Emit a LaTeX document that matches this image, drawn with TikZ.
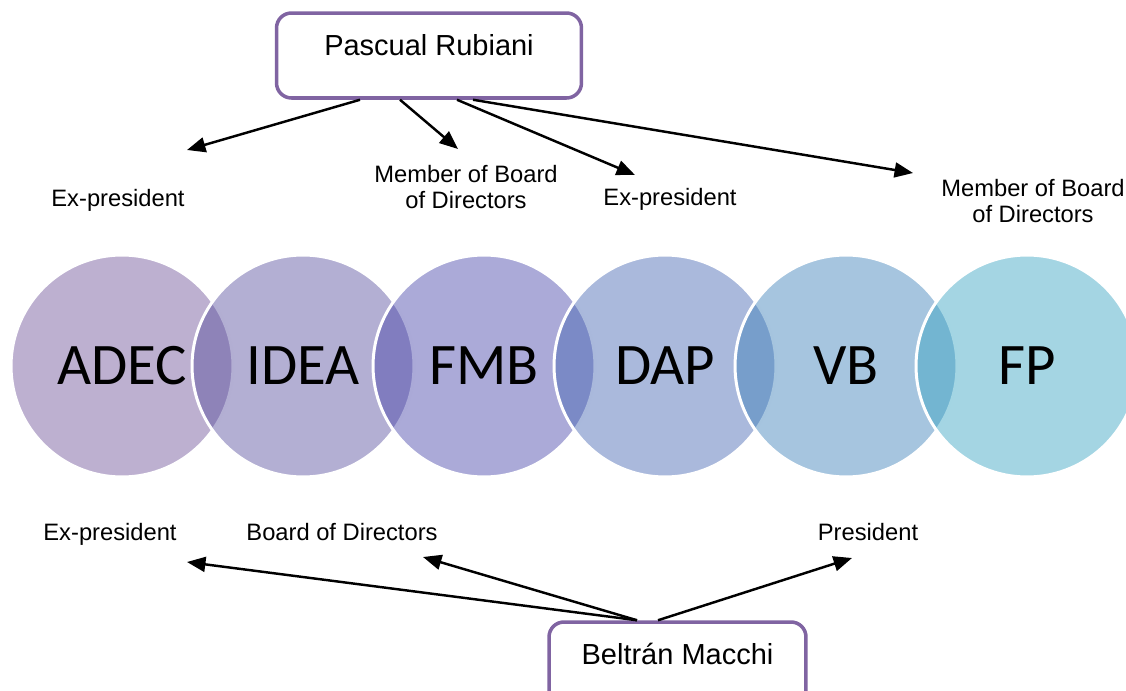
\documentclass[tikz,border=0pt]{standalone}
\usepackage{fontspec}
\setmainfont{Liberation Sans}
\newfontfamily\ringfont{Carlito}
\usepackage{tikz}
\usetikzlibrary{arrows.meta}
\definecolor{adecc}{RGB}{108,79,151}
\definecolor{ideac}{RGB}{86,77,157}
\definecolor{fmbc}{RGB}{68,66,168}
\definecolor{dapc}{RGB}{66,99,177}
\definecolor{vbc}{RGB}{57,126,184}
\definecolor{fpc}{RGB}{53,162,193}
\definecolor{frame}{HTML}{8064A2}
\tikzset{
  ring/.style={circle, minimum size=4.44cm, inner sep=0pt, draw=white, line width=1.7pt,
    fill opacity=0.45, text opacity=1, font=\ringfont\fontsize{33.5}{36}\selectfont},
  person/.style={draw=frame, line width=2pt, rounded corners=8.5pt, fill=white,
    minimum height=1.7cm, text height=12pt, text depth=12pt, font=\fontsize{16.5}{19}\selectfont},
  role/.style={font=\fontsize{13.5}{14.7}\selectfont, align=center, inner sep=0pt, anchor=base},
  link/.style={draw=black, line width=1.4pt, -{Triangle[length=10.5pt,width=8.5pt]}},
}

\begin{document}
\begin{tikzpicture}[x=0.02cm,y=-0.02cm]
  \useasboundingbox (0,0) rectangle (1126,690);
  \clip (0,0) rectangle (1126,690);

  % organisations
  \node[ring,fill=adecc] (adec) at (122,366) {ADEC};
  \node[ring,fill=ideac] (idea) at (303,366) {IDEA};
  \node[ring,fill=fmbc]  (fmb)  at (484,366) {FMB};
  \node[ring,fill=dapc]  (dap)  at (665,366) {DAP};
  \node[ring,fill=vbc]   (vb)   at (846,366) {VB};
  \node[ring,fill=fpc]   (fp)   at (1027,366) {FP};

  % people
  \node[person,minimum width=6.1cm] (pr) at (429,55.5) {Pascual Rubiani};
  \node[person,minimum width=5.14cm] (bm) at (677.5,664.5) {Beltrán Macchi};

  % roles (base = last line)
  \node[role] (r1) at (118,206) {Ex-president};
  \node[role] (r2) at (466,208) {Member of Board\\of Directors};
  \node[role] (r3) at (670,205) {Ex-president};
  \node[role] (r4) at (1033,222) {Member of Board\\of Directors};
  \node[role] (r5) at (110,540) {Ex-president};
  \node[role] (r6) at (342,540) {Board of Directors};
  \node[role] (r7) at (868,540) {President};

  \coordinate (t1) at (187,150);
  \coordinate (t2) at (458,149);
  \coordinate (t3) at (635,175);
  \coordinate (t4) at (913,173);
  \coordinate (b1) at (187,562);
  \coordinate (b2) at (423,557);
  \coordinate (b3) at (852,558);

  \draw[link] ([xshift=-1.38cm]pr.south) -- (t1);
  \draw[link] ([xshift=-0.58cm]pr.south) -- (t2);
  \draw[link] ([xshift=0.56cm]pr.south) -- (t3);
  \draw[link] ([xshift=0.88cm]pr.south) -- (t4);
  \draw[link] ([xshift=-0.81cm]bm.north) -- (b1);
  \draw[link] ([xshift=-0.81cm]bm.north) -- (b2);
  \draw[link] ([xshift=-0.39cm]bm.north) -- (b3);
\end{tikzpicture}
\end{document}
